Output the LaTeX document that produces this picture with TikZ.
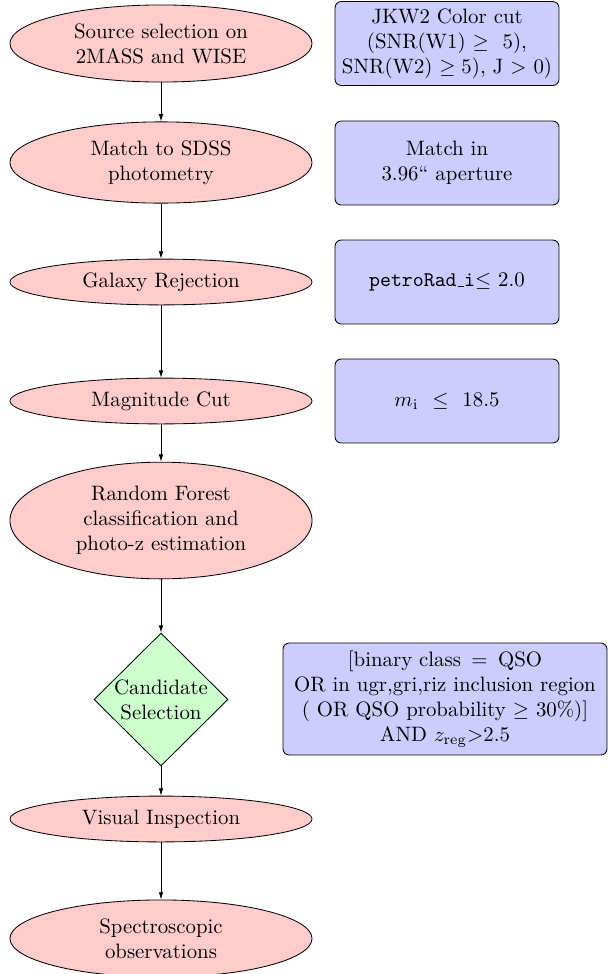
\documentclass[tikz,border=0pt]{standalone}
\usetikzlibrary{shapes.geometric,arrows.meta}
\newcommand{\lowbar}{\leavevmode\kern.06em\vbox{\hrule width.3em}}
\begin{document}
\begin{tikzpicture}[x=0.48pt,y=-0.48pt,
  proc/.style={ellipse,draw,fill=red!20,align=center,inner sep=0pt,minimum width=145pt},
  cond/.style={rectangle,rounded corners=3pt,draw,fill=blue!20,align=center,inner sep=0pt},
  dec/.style={diamond,draw,fill=green!20,align=center,inner sep=-2pt,minimum width=64.3pt,minimum height=63.8pt},
  arr/.style={-{Latex[length=3.5pt,width=2.2pt]}}]
\useasboundingbox (0,0) rectangle (608,974);
% main flow
\node[proc,minimum height=37pt] (n1) at (161,43.5) {Source selection on\\2MASS and WISE};
\node[proc,minimum height=39pt] (n2) at (161,162.5) {Match to SDSS\\photometry};
\node[proc,minimum height=22pt] (n3) at (161,282) {Galaxy Rejection};
\node[proc,minimum height=22pt] (n4) at (161,401) {Magnitude Cut};
\node[proc,minimum height=56pt] (n5) at (161,520.5) {Random Forest\\classification and\\photo-z estimation};
\node[dec] (n6) at (161,699.5) {Candidate\\Selection};
\node[proc,minimum height=22pt] (n7) at (161,819) {Visual Inspection};
\node[proc,minimum height=37pt] (n8) at (161,938.5) {Spectroscopic\\observations};
% condition boxes
\node[cond,minimum width=107.5pt,minimum height=40.3pt] (c1) at (447,43.5)
  {JKW2 Color cut\\(SNR(W1) $\geq$\ \ 5),\\SNR(W2) $\geq 5$), J $>$ 0)};
\node[cond,minimum width=107.5pt,minimum height=40.3pt] (c2) at (447,163)
  {Match in\\3.96`` aperture};
\node[cond,minimum width=107.5pt,minimum height=40.3pt] (c3) at (447,282)
  {\texttt{petroRad}\lowbar\texttt{i}$\leq$ 2.0};
\node[cond,minimum width=107.5pt,minimum height=40.3pt] (c4) at (447,401)
  {$m_{\mathrm{i}}$ \ $\leq$ \ 18.5};
\node[cond,minimum width=155.5pt,minimum height=53.8pt] (c5) at (445,699)
  {[binary class~$\,=\,$~QSO\\OR in ugr,gri,riz inclusion region\\( OR QSO probability $\geq$ 30\%)]\\AND $z_{\mathrm{reg}}$>2.5};
% connectors
\draw[arr] (n1) -- (n2);
\draw[arr] (n2) -- (n3);
\draw[arr] (n3) -- (n4);
\draw[arr] (n4) -- (n5);
\draw[arr] (n5) -- (n6);
\draw[arr] (n6) -- (n7);
\draw[arr] (n7) -- (n8);
\end{tikzpicture}
\end{document}
